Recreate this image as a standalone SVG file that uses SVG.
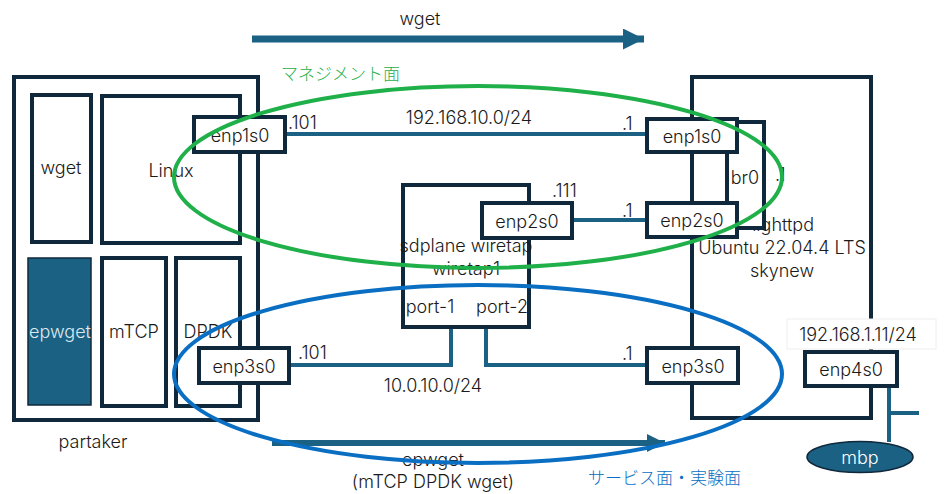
<svg xmlns="http://www.w3.org/2000/svg" width="946" height="494" viewBox="0 0 946 494">
<defs>
<style>
text{font-family:Inter,"Noto Sans CJK JP",sans-serif;font-size:18px;font-weight:300;fill:#1a1a1a;dominant-baseline:central}
.jp{font-family:"Noto Sans CJK JP",sans-serif;font-size:17px}
.c{text-anchor:middle}
.box{fill:#fff;stroke:#10283b;stroke-width:4}
.line{fill:none;stroke:#1b6183;stroke-width:4}
</style>
<marker id="ah" viewBox="0 0 10 10" refX="10" refY="5" markerWidth="3" markerHeight="3" orient="auto" markerUnits="strokeWidth">
<path d="M0,0 L10,5 L0,10 z" fill="#1b6183"/>
</marker>
</defs>
<rect width="946" height="494" fill="#fff"/>

<g id="wget-arrow">
<line x1="252" y1="39" x2="644" y2="39" stroke="#1b6183" stroke-width="7" marker-end="url(#ah)"/>
<text class="c" x="420" y="18">wget</text>
</g>

<g id="partaker">
<rect class="box" x="14" y="77" width="244" height="343"/>
<text class="c" x="93" y="441">partaker</text>
</g>
<g id="wget">
<rect class="box" x="32" y="95" width="59" height="147"/>
<text class="c" x="61" y="167">wget</text>
</g>
<g id="linux">
<rect class="box" x="102" y="96" width="138" height="147"/>
<text class="c" x="171" y="170">Linux</text>
</g>
<g id="epwget">
<rect x="28" y="258" width="63" height="147" fill="#1b6183" stroke="#10283b" stroke-width="1.5"/>
<text class="c" x="60" y="331" style="fill:#dfe9ef">epwget</text>
</g>
<g id="mtcp">
<rect class="box" x="102" y="258" width="64" height="148"/>
<text class="c" x="134" y="331">mTCP</text>
</g>
<g id="dpdk">
<rect class="box" x="176" y="258" width="64" height="148"/>
<text class="c" x="208" y="331">DPDK</text>
</g>

<g id="skynew">
<rect class="box" x="692" y="77" width="179" height="341"/>
<text x="814" y="224" style="text-anchor:end">lighttpd</text>
<text class="c" x="782" y="247">Ubuntu 22.04.4 LTS</text>
<text class="c" x="782" y="270">skynew</text>
</g>
<g id="br0">
<rect class="box" x="727" y="122" width="37" height="106"/>
<text class="c" x="745" y="177">br0</text>
<text x="775" y="174">.1</text>
</g>

<g id="connectors">
<line class="line" x1="285" y1="134" x2="647" y2="134"/>
<line class="line" x1="572" y1="220" x2="647" y2="220"/>
<polyline class="line" points="451,327 451,365 289,365"/>
<polyline class="line" points="486,327 486,365 647,365"/>
<polyline class="line" points="889,386 889,442"/>
<line class="line" x1="889" y1="413" x2="919" y2="413"/>
</g>

<g id="sdplane">
<rect class="box" x="403" y="185" width="126" height="142"/>
<text class="c" x="466" y="245">sdplane wiretap</text>
<text class="c" x="466" y="268">wiretap1</text>
<text class="c" x="430" y="306">port-1</text>
<text class="c" x="502" y="306">port-2</text>
</g>

<g id="enp1s0-l"><rect class="box" x="194" y="117" width="91" height="35"/><text class="c" x="240" y="135">enp1s0</text></g>
<g id="enp3s0-l"><rect class="box" x="199" y="348" width="90" height="35"/><text class="c" x="244" y="366">enp3s0</text></g>
<g id="enp2s0-m"><rect class="box" x="482" y="203" width="90" height="35"/><text class="c" x="527" y="221">enp2s0</text></g>
<g id="enp1s0-r"><rect class="box" x="647" y="119" width="90" height="33"/><text class="c" x="692" y="136">enp1s0</text></g>
<g id="enp2s0-r"><rect class="box" x="647" y="203" width="90" height="34"/><text class="c" x="692" y="220">enp2s0</text></g>
<g id="enp3s0-r"><rect class="box" x="647" y="348" width="91" height="35"/><text class="c" x="693" y="366">enp3s0</text></g>

<g id="ip4">
<rect x="787" y="319" width="149" height="30" fill="#fff" stroke="#eeeeee" stroke-width="1"/>
<text class="c" x="858" y="334">192.168.1.11/24</text>
</g>
<g id="enp4s0"><rect class="box" x="805" y="352" width="92" height="34"/><text class="c" x="851" y="369">enp4s0</text></g>

<g id="mbp">
<ellipse cx="860" cy="457" rx="53" ry="15.5" fill="#1b6183" stroke="#10283b" stroke-width="1.5"/>
<text class="c" x="860" y="457" style="fill:#fff">mbp</text>
</g>

<g id="labels">
<text class="c" x="469" y="117">192.168.10.0/24</text>
<text x="288" y="122">.101</text>
<text x="622" y="123">.1</text>
<text x="552" y="190">.111</text>
<text x="622" y="210">.1</text>
<text x="298" y="352">.101</text>
<text x="622" y="353">.1</text>
<text class="c" x="433" y="385">10.0.10.0/24</text>
</g>

<g id="epwget-arrow">
<line x1="272" y1="443" x2="665" y2="443" stroke="#1b6183" stroke-width="6" marker-end="url(#ah)"/>
<text class="c" x="433" y="459">epwget</text>
<text class="c" x="433" y="481">(mTCP DPDK wget)</text>
</g>

<g id="mgmt">
<ellipse cx="478" cy="177" rx="304" ry="91" fill="none" stroke="#1fb04a" stroke-width="4"/>
<text class="jp" x="281" y="72" style="fill:#1fb04a">マネジメント面</text>
</g>
<g id="service">
<ellipse cx="478" cy="374" rx="304" ry="89" fill="none" stroke="#0a6fc2" stroke-width="4"/>
<text class="jp" x="588" y="476" style="fill:#0a6fc2">サービス面・実験面</text>
</g>
</svg>
